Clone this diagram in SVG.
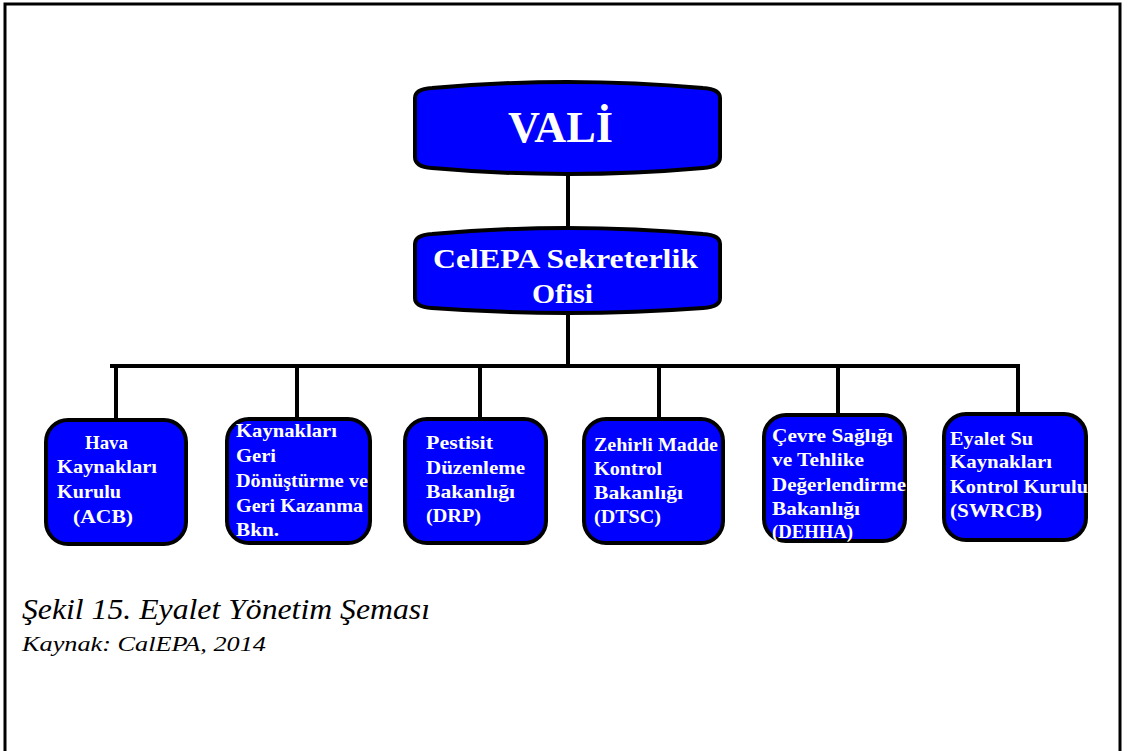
<svg xmlns="http://www.w3.org/2000/svg" width="1128" height="751" viewBox="0 0 1128 751">
<style>
.box{fill:#0000ff;stroke:#000;stroke-width:4}
.con{stroke:#000;stroke-width:4;fill:none}
.t{font-family:"Liberation Serif","Times New Roman",serif;font-weight:bold;fill:#fff}
.s{font-size:19px}
.cap{font-family:"Liberation Serif","Times New Roman",serif;font-style:italic;fill:#000}
</style>
<rect x="0" y="0" width="1128" height="751" fill="#fff"/>
<rect x="5" y="4" width="1115" height="800" fill="none" stroke="#000" stroke-width="3"/>
<g id="connectors">
<line class="con" x1="568" y1="170" x2="568" y2="232"/>
<line class="con" x1="568" y1="311" x2="568" y2="366"/>
<line class="con" x1="110" y1="366" x2="1020" y2="366"/>
<line class="con" x1="116" y1="366" x2="116" y2="420"/>
<line class="con" x1="297" y1="366" x2="297" y2="419"/>
<line class="con" x1="480" y1="366" x2="480" y2="419"/>
<line class="con" x1="659" y1="366" x2="659" y2="419"/>
<line class="con" x1="838" y1="366" x2="838" y2="415"/>
<line class="con" x1="1018" y1="366" x2="1018" y2="414"/>
</g>
<g id="vali">
<path class="box" d="M415,98 Q415,89 432,88 Q567,76 703,88 Q720,89 720,98 L720,157 Q720,167 703,168 Q567,180 432,168 Q415,167 415,157 Z"/>
<text class="t" x="508" y="142" font-size="45" textLength="105" lengthAdjust="spacingAndGlyphs">VALİ</text>
</g>
<g id="celepa">
<path class="box" d="M415,244 Q415,235 432,234 Q567,222 703,234 Q720,235 720,244 L720,298 Q720,307 703,308 Q567,318 432,308 Q415,307 415,298 Z"/>
<text class="t" x="433" y="268" font-size="28" textLength="265" lengthAdjust="spacingAndGlyphs">CelEPA Sekreterlik</text>
<text class="t" x="532" y="303" font-size="28" textLength="61" lengthAdjust="spacingAndGlyphs">Ofisi</text>
</g>
<g id="acb">
<rect class="box" x="46" y="420" width="140" height="124" rx="22"/>
<text class="t s" x="85" y="449" textLength="43" lengthAdjust="spacingAndGlyphs">Hava</text>
<text class="t s" x="57" y="473" textLength="100" lengthAdjust="spacingAndGlyphs">Kaynakları</text>
<text class="t s" x="57" y="498" textLength="64" lengthAdjust="spacingAndGlyphs">Kurulu</text>
<text class="t s" x="73" y="523" textLength="60" lengthAdjust="spacingAndGlyphs">(ACB)</text>
</g>
<g id="geri">
<rect class="box" x="227" y="419" width="143" height="124" rx="22"/>
<text class="t s" x="236" y="437" textLength="101" lengthAdjust="spacingAndGlyphs">Kaynakları</text>
<text class="t s" x="236" y="462" textLength="40" lengthAdjust="spacingAndGlyphs">Geri</text>
<text class="t s" x="236" y="487" textLength="132" lengthAdjust="spacingAndGlyphs">Dönüştürme ve</text>
<text class="t s" x="236" y="512" textLength="127" lengthAdjust="spacingAndGlyphs">Geri Kazanma</text>
<text class="t s" x="236" y="536" textLength="43" lengthAdjust="spacingAndGlyphs">Bkn.</text>
</g>
<g id="drp">
<rect class="box" x="405" y="419" width="141" height="124" rx="22"/>
<text class="t s" x="426" y="449" textLength="67" lengthAdjust="spacingAndGlyphs">Pestisit</text>
<text class="t s" x="426" y="474" textLength="99" lengthAdjust="spacingAndGlyphs">Düzenleme</text>
<text class="t s" x="426" y="498" textLength="89" lengthAdjust="spacingAndGlyphs">Bakanlığı</text>
<text class="t s" x="426" y="522" textLength="55" lengthAdjust="spacingAndGlyphs">(DRP)</text>
</g>
<g id="dtsc">
<rect class="box" x="584" y="419" width="139" height="124" rx="22"/>
<text class="t s" x="594" y="451" textLength="124" lengthAdjust="spacingAndGlyphs">Zehirli Madde</text>
<text class="t s" x="594" y="475" textLength="68" lengthAdjust="spacingAndGlyphs">Kontrol</text>
<text class="t s" x="594" y="499" textLength="89" lengthAdjust="spacingAndGlyphs">Bakanlığı</text>
<text class="t s" x="594" y="523" textLength="67" lengthAdjust="spacingAndGlyphs">(DTSC)</text>
</g>
<g id="dehha">
<rect class="box" x="764" y="415" width="141" height="126" rx="22"/>
<text class="t s" x="772" y="442" textLength="121" lengthAdjust="spacingAndGlyphs">Çevre Sağlığı</text>
<text class="t s" x="772" y="466" textLength="92" lengthAdjust="spacingAndGlyphs">ve Tehlike</text>
<text class="t s" x="772" y="491" textLength="134" lengthAdjust="spacingAndGlyphs">Değerlendirme</text>
<text class="t s" x="772" y="515" textLength="88" lengthAdjust="spacingAndGlyphs">Bakanlığı</text>
<text class="t s" x="772" y="538" textLength="81" lengthAdjust="spacingAndGlyphs">(DEHHA)</text>
</g>
<g id="swrcb">
<rect class="box" x="944" y="414" width="142" height="126" rx="22"/>
<text class="t s" x="950" y="445" textLength="83" lengthAdjust="spacingAndGlyphs">Eyalet Su</text>
<text class="t s" x="950" y="468" textLength="102" lengthAdjust="spacingAndGlyphs">Kaynakları</text>
<text class="t s" x="950" y="493" textLength="138" lengthAdjust="spacingAndGlyphs">Kontrol Kurulu</text>
<text class="t s" x="950" y="517" textLength="92" lengthAdjust="spacingAndGlyphs">(SWRCB)</text>
</g>
<g id="caption">
<text class="cap" x="22" y="619" font-size="29" textLength="408" lengthAdjust="spacingAndGlyphs">Şekil 15. Eyalet Yönetim Şeması</text>
<text class="cap" x="22" y="651" font-size="21" textLength="244" lengthAdjust="spacingAndGlyphs">Kaynak: CalEPA, 2014</text>
</g>
</svg>
